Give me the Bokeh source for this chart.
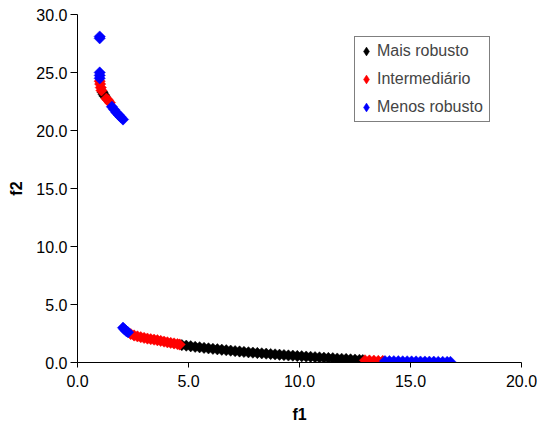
import math
from bokeh.plotting import figure
from bokeh.models import Range1d, FixedTicker, PrintfTickFormatter, Legend, LegendItem
from bokeh.embed import file_html
from bokeh.resources import INLINE

# ---- data ----
mais_f1 = [1.13, 1.18, 1.23,
           4.7, 4.9, 5.1, 5.3, 5.5, 5.7, 5.9, 6.1, 6.3, 6.5, 6.7, 6.9, 7.1, 7.3, 7.5, 7.7,
           7.9, 8.1, 8.3, 8.5, 8.7, 8.9, 9.1, 9.3, 9.5, 9.7, 9.9, 10.1, 10.3, 10.5, 10.7,
           10.9, 11.1, 11.3, 11.5, 11.7, 11.9, 12.1, 12.3, 12.5, 12.7, 12.85]
mais_f2 = [23.3, 23.1, 22.95,
           1.50, 1.45, 1.40, 1.35, 1.31, 1.26, 1.22, 1.18, 1.14, 1.10, 1.06, 1.02, 0.98, 0.95,
           0.91, 0.88, 0.85, 0.82, 0.79, 0.76, 0.73, 0.70, 0.67, 0.64, 0.61, 0.59, 0.56, 0.54,
           0.51, 0.49, 0.46, 0.44, 0.41, 0.39, 0.37, 0.34, 0.32, 0.30, 0.27, 0.25, 0.23, 0.21]

inter_f1 = [1.0, 1.02, 1.05, 1.08, 1.3, 1.38, 1.46,
            2.4, 2.55, 2.7, 2.85, 3.0, 3.15, 3.3, 3.45, 3.6, 3.75, 3.9, 4.05, 4.2, 4.35, 4.5, 4.6,
            12.95, 13.15, 13.35, 13.55, 13.75]
inter_f2 = [24.25, 24.0, 23.7, 23.45, 22.75, 22.6, 22.4,
            2.45, 2.33, 2.25, 2.18, 2.12, 2.06, 2.01, 1.97, 1.92, 1.86, 1.80, 1.74, 1.69, 1.64, 1.59, 1.55,
            0.19, 0.17, 0.16, 0.14, 0.13]

menos_f1 = [1.0, 1.0, 1.0, 1.0, 1.0, 1.55, 1.65, 1.75, 1.85, 1.95, 2.05,
            2.05, 2.12, 2.2, 2.28,
            13.85, 14.05, 14.25, 14.45, 14.65, 14.85, 15.05, 15.25, 15.45, 15.65, 15.85,
            16.05, 16.25, 16.45, 16.65, 16.8]
menos_f2 = [28.1, 27.95, 25.0, 24.75, 24.5, 22.05, 21.8, 21.55, 21.35, 21.15, 20.95,
            3.0, 2.85, 2.7, 2.6,
            0.12, 0.12, 0.11, 0.11, 0.10, 0.10, 0.09, 0.09, 0.08, 0.08, 0.07,
            0.07, 0.06, 0.06, 0.05, 0.05]

series_names = ["Mais robusto", "Intermediário", "Menos robusto"]
series_colors = ["#000000", "#FF0000", "#0000FF"]
x_ticks = [0, 5, 10, 15, 20]
y_ticks = [0, 5, 10, 15, 20, 25, 30]

FONT = "Liberation Sans"

p = figure(width=537, height=427, x_range=Range1d(0, 20), y_range=Range1d(0, 30),
           output_backend="svg", toolbar_location=None,
           min_border_left=77, min_border_right=16, min_border_top=14, min_border_bottom=65)
p.xgrid.visible = False
p.ygrid.visible = False
p.outline_line_color = None
p.background_fill_color = "white"
p.border_fill_color = "white"

legend_renderers = []
for xs, ys, col in [(mais_f1, mais_f2, series_colors[0]),
                    (inter_f1, inter_f2, series_colors[1]),
                    (menos_f1, menos_f2, series_colors[2])]:
    p.scatter(xs, ys, marker="square", size=8, angle=math.pi / 4,
              fill_color=col, line_color=col, line_width=0.5)
    # hidden twin used only for the legend's diamond symbol
    lr = p.scatter(xs, ys, marker="diamond", size=10,
                   fill_color=col, line_color=col, line_width=0.5, visible=False)
    legend_renderers.append(lr)

for ax in (p.xaxis[0], p.yaxis[0]):
    ax.major_label_text_font = FONT
    ax.major_label_text_font_size = "16px"
    ax.major_label_text_color = "#000000"
    ax.axis_label_text_font = FONT
    ax.axis_label_text_font_size = "16px"
    ax.axis_label_text_font_style = "bold"
    ax.axis_label_text_color = "#000000"
    ax.axis_line_color = "#000000"
    ax.major_tick_line_color = "#000000"
    ax.minor_tick_line_color = None
    ax.major_tick_in = 0
    ax.formatter = PrintfTickFormatter(format="%.1f")

p.xaxis[0].ticker = FixedTicker(ticks=x_ticks)
p.yaxis[0].ticker = FixedTicker(ticks=y_ticks)
p.xaxis[0].axis_label = "f1"
p.yaxis[0].axis_label = "f2"
p.xaxis[0].major_tick_out = 5
p.yaxis[0].major_tick_out = 7
p.xaxis[0].major_label_standoff = 7
p.yaxis[0].major_label_standoff = 3
p.xaxis[0].axis_label_standoff = 16
p.yaxis[0].axis_label_standoff = 8

legend = Legend(items=[LegendItem(label=n, renderers=[r]) for n, r in zip(series_names, legend_renderers)],
                location=(277, 240), padding=0, spacing=0, margin=0,
                glyph_width=22, glyph_height=28, label_height=28, label_width=112,
                label_standoff=0, label_text_font=FONT, label_text_font_size="16px",
                border_line_color="#000000", border_line_width=1,
                background_fill_color="white", background_fill_alpha=1.0)
p.add_layout(legend, "center")

open("out.html", "w").write(file_html(p, INLINE))
